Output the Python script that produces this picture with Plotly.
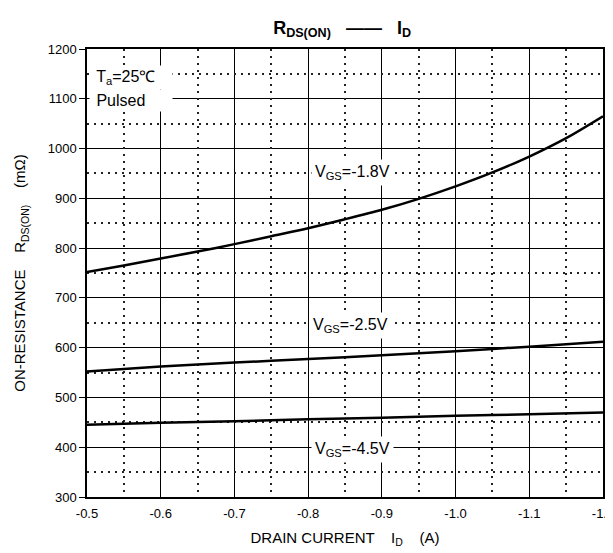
import plotly.graph_objects as go

current_fine = [-0.5, -0.55, -0.6, -0.65, -0.7, -0.75, -0.8, -0.85, -0.9, -0.95, -1.0, -1.05, -1.1, -1.15, -1.2]
r_vgs_18 = [752, 765, 779, 793, 808, 824, 840, 858, 877, 899, 924, 952, 984, 1021, 1065]

current_coarse = [-0.5, -0.6, -0.7, -0.8, -0.9, -1.0, -1.1, -1.2]
r_vgs_25 = [552, 562, 570, 577, 585, 593, 602, 612]
r_vgs_45 = [445, 449, 452, 456, 459, 463, 466, 470]

x_ticks = [-0.5, -0.6, -0.7, -0.8, -0.9, -1.0, -1.1, -1.2]
x_tick_labels = ["-0.5", "-0.6", "-0.7", "-0.8", "-0.9", "-1.0", "-1.1", "-1.2"]
y_ticks = [300, 400, 500, 600, 700, 800, 900, 1000, 1100, 1200]
x_minor = [-0.55, -0.65, -0.75, -0.85, -0.95, -1.05, -1.15]
y_minor = [350, 450, 550, 650, 750, 850, 950, 1050, 1150]

FONT = "Liberation Sans, Arial, sans-serif"

fig = go.Figure()
# helper trace so the dotted-grid overlay axes are rendered
fig.add_trace(go.Scatter(x=[None], y=[None], xaxis="x2", yaxis="y2", mode="lines",
                         showlegend=False, hoverinfo="skip"))
for xs, ys in ((current_fine, r_vgs_18), (current_coarse, r_vgs_25), (current_coarse, r_vgs_45)):
    fig.add_trace(go.Scatter(x=xs, y=ys, mode="lines",
                             line=dict(color="black", width=2.5, shape="spline", smoothing=0.8),
                             showlegend=False, hoverinfo="skip"))

DOT = "2px,5px"
fig.update_layout(
    width=613, height=553,
    margin=dict(l=79, r=18, t=41, b=64),
    paper_bgcolor="white", plot_bgcolor="white",
    font=dict(family=FONT, color="black", size=13),
    title=dict(text="<b>R<sub>DS(ON)</sub>   ——   I<sub>D</sub></b>",
               x=0.545, xanchor="center", y=0.965, yanchor="middle",
               font=dict(size=18, family=FONT)),
    xaxis=dict(
        range=[-0.5, -1.2], tickvals=x_ticks, ticktext=x_tick_labels,
        showline=True, mirror=True, linecolor="black", linewidth=1.5,
        showgrid=True, gridcolor="#000", gridwidth=1.3,
        ticks="outside", ticklen=0, ticklabelstandoff=4, zeroline=False,
        automargin=False,
        title=dict(text="DRAIN CURRENT    I<sub>D</sub>    (A)", font=dict(size=15, family=FONT), standoff=12),
        tickfont=dict(size=13),
    ),
    yaxis=dict(
        range=[300, 1200], tickvals=y_ticks,
        showline=True, mirror=True, linecolor="black", linewidth=1.5,
        showgrid=True, gridcolor="#000", gridwidth=1.3,
        ticks="outside", ticklen=6, tickcolor="black", tickwidth=1.3,
        zeroline=False, automargin=False,
        title=dict(text="ON-RESISTANCE    R<sub>DS(ON)</sub>    (mΩ)", font=dict(size=15, family=FONT), standoff=18),
        tickfont=dict(size=13),
    ),
    xaxis2=dict(
        overlaying="x", anchor="y", range=[-0.5, -1.2], tickvals=x_minor,
        showticklabels=False, ticks="", showline=False, zeroline=False,
        showgrid=True, gridcolor="#222", griddash=DOT, gridwidth=1.5,
    ),
    yaxis2=dict(
        overlaying="y", anchor="x", range=[300, 1200], tickvals=y_minor,
        showticklabels=False, ticks="", showline=False, zeroline=False,
        showgrid=True, gridcolor="#222", griddash=DOT, gridwidth=1.5,
    ),
)

fig.add_annotation(x=-0.503, y=1143, xanchor="left", width=78, align="left",
                   text=" T<sub>a</sub>=25℃", showarrow=False,
                   bgcolor="white", borderpad=2, font=dict(size=16, family=FONT))
fig.add_annotation(x=-0.503, y=1097, xanchor="left", width=78, align="left",
                   text=" Pulsed", showarrow=False,
                   bgcolor="white", borderpad=2, font=dict(size=16, family=FONT))
fig.add_annotation(x=-0.86, y=952, text="V<sub>GS</sub>=-1.8V", showarrow=False,
                   bgcolor="white", borderpad=3, font=dict(size=16, family=FONT))
fig.add_annotation(x=-0.857, y=645, text="V<sub>GS</sub>=-2.5V", showarrow=False,
                   bgcolor="white", borderpad=3, font=dict(size=16, family=FONT))
fig.add_annotation(x=-0.86, y=395, text="V<sub>GS</sub>=-4.5V", showarrow=False,
                   bgcolor="white", borderpad=3, font=dict(size=16, family=FONT))

fig.write_html("out.html")
